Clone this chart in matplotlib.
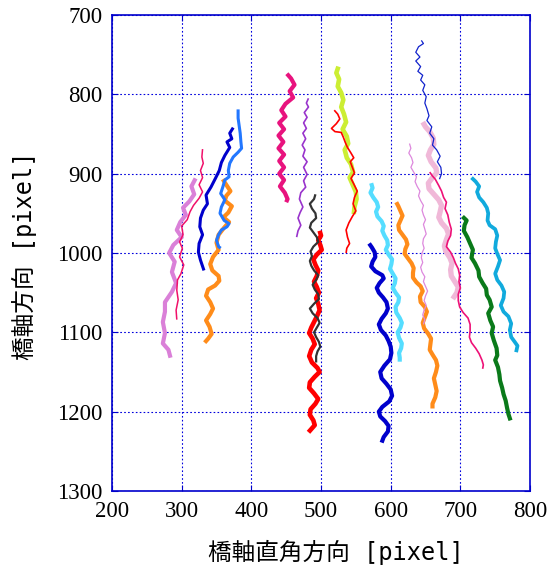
import matplotlib
matplotlib.use("Agg")
import matplotlib.pyplot as plt

# trajectories (x: 橋軸直角方向, y: 橋軸方向), pixel units
orchid_x = [320, 314, 318, 311, 302, 306, 298, 293, 300, 288, 282, 290, 286, 292, 286, 276, 276, 273, 276, 273, 281, 284]
orchid_y = [906, 916, 926, 935, 943, 952, 961, 971, 980, 990, 1000, 1011, 1024, 1038, 1049, 1062, 1074, 1087, 1101, 1114, 1122, 1132]

pinkl_x = [330, 329, 331, 327, 330, 325, 330, 325, 317, 312, 308, 300, 302, 297, 301, 297, 303, 299, 294, 293, 295, 292, 293]
pinkl_y = [869, 879, 887, 896, 905, 914, 923, 931, 940, 948, 958, 966, 977, 986, 994, 1005, 1015, 1026, 1034, 1047, 1059, 1072, 1084]

bluel_x = [374, 369, 372, 365, 369, 362, 357, 354, 349, 342, 335, 337, 331, 327, 326, 330, 325, 324, 327, 332]
bluel_y = [842, 849, 856, 860, 867, 877, 886, 896, 905, 917, 927, 938, 946, 956, 967, 977, 988, 999, 1009, 1022]

lblue_x = [381, 381, 384, 385, 386, 381, 374, 369, 367, 368, 362, 359, 356, 362, 357, 355, 361, 368, 365, 357, 353, 350, 353, 356]
lblue_y = [819, 830, 849, 860, 868, 873, 879, 887, 896, 904, 908, 917, 925, 933, 942, 950, 959, 963, 967, 971, 977, 984, 992, 994]

orangel_x = [359, 364, 370, 364, 362, 372, 367, 360, 368, 361, 353, 350, 353, 345, 341, 344, 353, 354, 348, 338, 335, 341, 345, 341, 335, 340, 343, 338, 333]
orangel_y = [907, 914, 922, 928, 934, 941, 949, 955, 961, 968, 977, 987, 996, 1005, 1014, 1022, 1029, 1035, 1041, 1046, 1054, 1062, 1070, 1077, 1085, 1093, 1102, 1108, 1113]

magenta_x = [451, 457, 462, 455, 460, 449, 443, 449, 440, 447, 439, 446, 439, 447, 440, 447, 440, 447, 441, 448, 452, 450]
magenta_y = [774, 780, 788, 796, 804, 812, 820, 828, 836, 844, 852, 860, 868, 876, 884, 892, 900, 908, 916, 924, 932, 936]

purple_x = [482, 479, 482, 476, 480, 475, 479, 474, 478, 473, 477, 474, 480, 475, 480, 475, 478, 471, 469, 474, 470, 467, 471, 467, 465]
purple_y = [805, 811, 816, 823, 829, 836, 843, 849, 856, 864, 870, 878, 885, 892, 901, 909, 917, 924, 932, 942, 949, 956, 965, 972, 980]

yellow_x = [525, 522, 526, 524, 529, 532, 529, 533, 536, 531, 537, 539, 534, 537, 543, 546, 541, 545, 550, 551, 548, 547]
yellow_y = [765, 773, 781, 790, 798, 807, 816, 825, 835, 844, 853, 862, 870, 880, 888, 898, 905, 913, 923, 932, 942, 951]

tred_x = [519, 524, 527, 522, 515, 520, 529, 532, 535, 538, 543, 547, 542, 545, 548, 543, 547, 552, 548, 546, 550, 545, 540, 536, 538, 541, 537, 536]
tred_y = [820, 825, 831, 837, 843, 847, 848, 854, 861, 867, 874, 880, 885, 892, 899, 906, 913, 922, 930, 938, 947, 954, 962, 971, 980, 988, 994, 1000]

black_x = [492, 490, 484, 487, 492, 493, 486, 484, 489, 494, 496, 489, 485, 487, 484, 486, 490, 496, 493, 488, 491, 496, 497, 490, 484, 488, 495, 498, 494, 490, 493, 497, 499, 495, 493, 493]
black_y = [926, 932, 938, 944, 950, 956, 962, 968, 974, 980, 986, 992, 998, 1004, 1010, 1016, 1022, 1028, 1034, 1040, 1046, 1052, 1058, 1064, 1070, 1076, 1082, 1088, 1094, 1100, 1106, 1112, 1118, 1124, 1130, 1138]

red_x = [498, 500, 496, 499, 501, 494, 489, 492, 496, 494, 490, 494, 497, 493, 496, 498, 494, 490, 486, 483, 488, 491, 486, 483, 487, 495, 498, 491, 484, 483, 490, 496, 492, 485, 484, 489, 491, 486, 482]
red_y = [972, 978, 984, 990, 996, 1002, 1008, 1015, 1022, 1029, 1036, 1043, 1050, 1057, 1064, 1072, 1080, 1087, 1094, 1101, 1108, 1115, 1122, 1130, 1138, 1145, 1150, 1156, 1163, 1170, 1177, 1184, 1190, 1197, 1204, 1211, 1217, 1222, 1226]

bluer_x = [569, 573, 577, 578, 574, 572, 578, 588, 590, 584, 580, 583, 589, 594, 596, 593, 587, 583, 586, 593, 597, 600, 601, 599, 591, 585, 587, 594, 600, 602, 598, 588, 583, 585, 592, 597, 596, 590, 587]
bluer_y = [988, 993, 999, 1005, 1011, 1017, 1023, 1028, 1032, 1038, 1044, 1050, 1056, 1062, 1070, 1076, 1083, 1090, 1097, 1104, 1111, 1118, 1126, 1134, 1142, 1150, 1158, 1165, 1172, 1180, 1187, 1194, 1200, 1206, 1212, 1218, 1225, 1232, 1239]

cyan_x = [572, 574, 571, 575, 580, 582, 579, 581, 587, 590, 588, 591, 595, 596, 593, 597, 602, 601, 599, 603, 607, 606, 603, 607, 612, 611, 607, 608, 613, 616, 614, 610, 612, 616, 615, 612, 613, 613]
cyan_y = [912, 918, 924, 930, 936, 942, 948, 954, 960, 966, 972, 978, 984, 990, 996, 1002, 1008, 1014, 1020, 1026, 1032, 1038, 1044, 1050, 1056, 1062, 1068, 1075, 1082, 1088, 1094, 1100, 1107, 1114, 1120, 1126, 1132, 1137]

oranger_x = [608, 611, 614, 617, 614, 611, 612, 617, 622, 624, 621, 620, 625, 630, 633, 632, 632, 637, 643, 646, 642, 643, 649, 652, 649, 646, 648, 654, 658, 657, 656, 660, 665, 667, 665, 662, 664, 666, 664, 660, 660]
oranger_y = [936, 941, 947, 953, 959, 965, 971, 977, 983, 989, 995, 1001, 1007, 1013, 1019, 1025, 1031, 1037, 1042, 1048, 1055, 1062, 1068, 1074, 1081, 1088, 1095, 1102, 1108, 1115, 1122, 1128, 1135, 1142, 1150, 1158, 1166, 1174, 1182, 1190, 1196]

torchid_x = [627, 629, 626, 630, 632, 629, 633, 637, 635, 638, 642, 640, 643, 647, 645, 647, 650, 647, 649, 651, 647, 646, 648, 645, 644, 646, 643, 645, 649, 647, 650, 653, 650, 648, 651, 648, 646, 649, 647]
torchid_y = [862, 868, 874, 880, 886, 892, 898, 904, 910, 916, 922, 928, 934, 940, 946, 952, 958, 964, 970, 976, 982, 988, 994, 1000, 1006, 1012, 1018, 1024, 1030, 1036, 1042, 1048, 1054, 1060, 1066, 1072, 1078, 1084, 1090]

pink_x = [646, 650, 656, 661, 662, 657, 654, 658, 665, 666, 660, 654, 655, 662, 669, 673, 671, 669, 673, 680, 683, 680, 677, 679, 685, 688, 686, 687, 692, 697, 695, 689]
pink_y = [835, 841, 847, 855, 863, 870, 877, 885, 893, 899, 905, 912, 919, 926, 933, 940, 948, 955, 962, 969, 976, 983, 991, 998, 1006, 1013, 1021, 1029, 1036, 1043, 1050, 1058]

tblue_x = [644, 647, 640, 636, 642, 636, 643, 639, 646, 643, 649, 646, 651, 649, 652, 655, 652, 659, 656, 662, 660, 666, 671, 667, 672, 673, 670]
tblue_y = [732, 736, 740, 747, 753, 758, 765, 771, 776, 782, 788, 795, 803, 811, 818, 827, 833, 841, 849, 856, 864, 870, 878, 885, 892, 900, 907]

pinkr_x = [656, 660, 664, 669, 673, 676, 680, 678, 682, 684, 687, 686, 682, 680, 686, 690, 693, 697, 699, 698, 700, 697, 697, 699, 704, 711, 714, 714, 713, 716, 722, 727, 731, 733, 732]
pinkr_y = [898, 903, 907, 915, 922, 930, 936, 944, 952, 961, 970, 978, 985, 992, 999, 1006, 1013, 1020, 1028, 1036, 1044, 1052, 1060, 1068, 1075, 1082, 1090, 1098, 1106, 1113, 1120, 1127, 1135, 1141, 1146]

green_x = [703, 709, 706, 705, 710, 714, 718, 716, 721, 726, 727, 732, 737, 738, 742, 745, 740, 743, 747, 745, 748, 752, 753, 750, 754, 756, 757, 760, 762, 765, 767, 769, 772]
green_y = [954, 959, 965, 972, 980, 988, 996, 1006, 1013, 1022, 1030, 1038, 1045, 1053, 1059, 1068, 1076, 1085, 1093, 1101, 1110, 1120, 1129, 1135, 1144, 1153, 1161, 1170, 1178, 1186, 1195, 1203, 1211]

sky_x = [716, 722, 727, 724, 727, 733, 738, 740, 739, 742, 750, 753, 751, 750, 753, 757, 754, 750, 753, 759, 763, 762, 758, 762, 769, 773, 771, 773, 778, 782, 780]
sky_y = [905, 910, 916, 923, 930, 936, 943, 950, 959, 965, 970, 978, 986, 994, 1001, 1009, 1017, 1026, 1034, 1041, 1049, 1057, 1066, 1074, 1080, 1089, 1097, 1106, 1112, 1117, 1125]

xticks = [200, 300, 400, 500, 600, 700, 800]
yticks = [700, 800, 900, 1000, 1100, 1200, 1300]

# (x, y, colour, linewidth) in drawing order
tracks = [
    (orangel_x, orangel_y, "#FF8C1A", 3.0),
    (orchid_x, orchid_y, "#DA80D8", 3.0),
    (pinkl_x, pinkl_y, "#F0106A", 1.1),
    (bluel_x, bluel_y, "#0000CC", 2.2),
    (lblue_x, lblue_y, "#2277FF", 2.2),
    (magenta_x, magenta_y, "#E8137E", 3.0),
    (purple_x, purple_y, "#9933CC", 1.2),
    (yellow_x, yellow_y, "#CCEE33", 3.3),
    (tred_x, tred_y, "#FF0000", 1.2),
    (red_x, red_y, "#FF0000", 3.3),
    (black_x, black_y, "#333333", 1.6),
    (bluer_x, bluer_y, "#0000CC", 3.0),
    (cyan_x, cyan_y, "#55DDFF", 3.0),
    (oranger_x, oranger_y, "#FF8C1A", 3.0),
    (torchid_x, torchid_y, "#DD88DD", 0.9),
    (pink_x, pink_y, "#F0B8D8", 3.8),
    (tblue_x, tblue_y, "#1122CC", 0.9),
    (pinkr_x, pinkr_y, "#EE1177", 1.2),
    (green_x, green_y, "#0A7A1A", 3.0),
    (sky_x, sky_y, "#11AADD", 2.7),
]

fig = plt.figure(figsize=(5.55, 5.70), dpi=100)
ax = fig.add_axes([0.2018, 0.1386, 0.7532, 0.8351])

for xs, ys, c, lw in tracks:
    ax.plot(xs, ys, color=c, lw=lw, solid_joinstyle="round", solid_capstyle="butt")

ax.set_xlim(200, 800)
ax.set_ylim(1300, 700)
ax.set_xticks(xticks)
ax.set_yticks(yticks)
ax.grid(True, color="#0000DD", linestyle=(0, (1.5, 2)), lw=0.8)
for s in ax.spines.values():
    s.set_color("#0000CC")
    s.set_linewidth(1.2)
ax.tick_params(direction="in", length=4, color="#0000CC", top=True, right=True,
               labelsize=16.5, pad=7)
for lab in ax.get_xticklabels() + ax.get_yticklabels():
    lab.set_fontfamily("Liberation Serif")

lab_font = ["DejaVu Sans Mono", "Noto Sans CJK JP"]
fig.text(0.606, 0.030, "橋軸直角方向 [pixel]", ha="center", va="center",
         fontsize=17, family=lab_font)
fig.text(0.045, 0.552, "橋軸方向 [pixel]", ha="center", va="center",
         rotation=90, fontsize=17, family=lab_font)

fig.savefig("out.png", dpi=100)
